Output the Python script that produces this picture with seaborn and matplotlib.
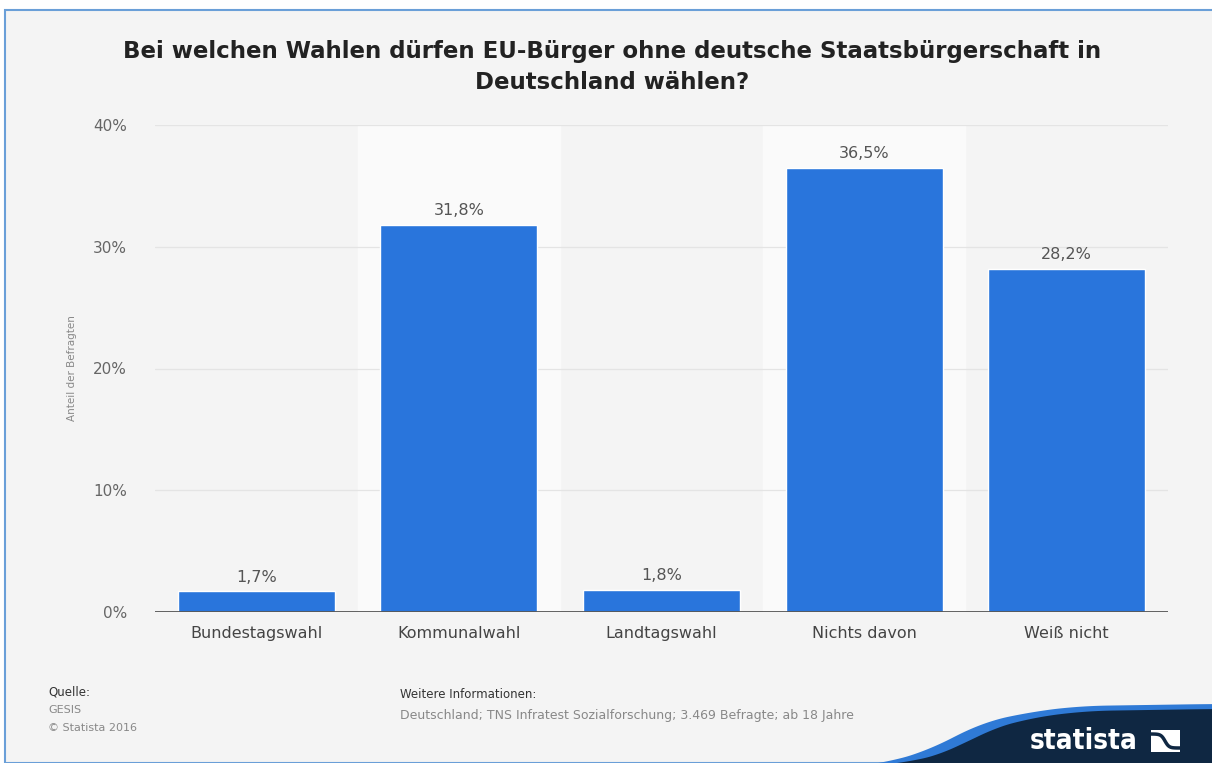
import numpy as np
import matplotlib
matplotlib.use("Agg")
import matplotlib.pyplot as plt
from matplotlib.patches import Polygon, Rectangle
import seaborn as sns

categories = ["Bundestagswahl", "Kommunalwahl", "Landtagswahl", "Nichts davon", "Weiß nicht"]
values = [1.7, 31.8, 1.8, 36.5, 28.2]
yticks = [0, 10, 20, 30, 40]
title = "Bei welchen Wahlen dürfen EU-Bürger ohne deutsche Staatsbürgerschaft in\nDeutschland wählen?"
ylabel = "Anteil der Befragten"

sns.set_theme(style="white")
plt.rcParams["font.family"] = ["DejaVu Sans"]

W, H = 1212, 763
fig = plt.figure(figsize=(W / 100, H / 100), dpi=100)
fig.patch.set_facecolor("white")

# framed panel with blue border
panel = Rectangle((5 / W, 0), 1.2, 1 - 10 / H, transform=fig.transFigure,
                  facecolor="#f4f4f4", edgecolor="#6a9fd8", linewidth=1.5, zorder=-5)
fig.patches.append(panel)

ax = fig.add_axes([155 / W, 1 - 612 / H, (1168 - 155) / W, (612 - 125) / H])
ax.set_zorder(1)
ax.set_facecolor("#f4f4f4")

# lighter background behind every second category
for i in range(len(categories)):
    if i % 2 == 1:
        ax.axvspan(i - 0.5, i + 0.5, color="#fafafa", zorder=0)

for t in yticks[1:]:
    ax.axhline(t, color="#e4e4e4", linewidth=0.9, zorder=1)

sns.barplot(x=categories, y=values, color="#2975dc", saturation=1, width=0.775,
            ax=ax, zorder=3)

for i, v in enumerate(values):
    ax.text(i, v + 0.55, f"{v:.1f}%".replace(".", ","), ha="center", va="bottom",
            fontsize=11.5, color="#555555", zorder=4)

ax.axhline(0, color="#555555", linewidth=1.3, zorder=5)
ax.set_xlim(-0.5, len(categories) - 0.5)
ax.set_ylim(0, 40)
ax.set_yticks(yticks)
ax.set_yticklabels([f"{t}%" for t in yticks], fontsize=11, color="#666666")
ax.tick_params(axis="y", length=0, pad=20)
ax.tick_params(axis="x", length=0, pad=10, labelsize=11.5, labelcolor="#444444")
for s in ax.spines.values():
    s.set_visible(False)
ax.set_xlabel("")
ax.set_ylabel("")

fig.text(72 / W, 1 - 368 / H, ylabel, rotation=90, ha="center", va="center",
         fontsize=7.5, color="#888888")

fig.text(612 / W, 1 - 67 / H, title, ha="center", va="center", fontsize=16.5,
         fontweight="bold", color="#222222", linespacing=1.45)

# footer
fig.text(48 / W, 1 - 692 / H, "Quelle:", fontsize=8.5, color="#333333", va="center")
fig.text(48 / W, 1 - 710 / H, "GESIS", fontsize=8, color="#888888", va="center")
fig.text(48 / W, 1 - 728 / H, "© Statista 2016", fontsize=8, color="#888888", va="center")
fig.text(400 / W, 1 - 695 / H, "Weitere Informationen:", fontsize=8.5, color="#333333", va="center")
fig.text(400 / W, 1 - 716 / H,
         "Deutschland; TNS Infratest Sozialforschung; 3.469 Befragte; ab 18 Jahre",
         fontsize=9, color="#888888", va="center")

# logo band: blue swoosh above a navy block
xs = np.linspace(840, 1212, 400)
blue_top = np.interp(xs, [840, 885, 930, 980, 1030, 1080, 1212],
                     [768, 763, 750, 723, 712, 706, 704])
navy_top = np.interp(xs, [840, 905, 950, 985, 1030, 1085, 1212],
                     [768, 763, 752, 731, 718, 711, 709])
k = np.ones(61) / 61
blue_top = np.convolve(np.pad(blue_top, 30, mode="edge"), k, mode="valid")
navy_top = np.convolve(np.pad(navy_top, 30, mode="edge"), k, mode="valid")

blue = np.column_stack([xs / W, 1 - blue_top / H])
blue = np.vstack([blue, [[1212 / W, -0.01], [840 / W, -0.01]]])
fig.patches.append(Polygon(blue, closed=True, transform=fig.transFigure,
                           facecolor="#2f7ad6", edgecolor="none", zorder=2))
navy = np.column_stack([xs / W, 1 - navy_top / H])
navy = np.vstack([navy, [[1212 / W, -0.01], [840 / W, -0.01]]])
fig.patches.append(Polygon(navy, closed=True, transform=fig.transFigure,
                           facecolor="#0f2742", edgecolor="none", zorder=3))
fig.text(1084 / W, 1 - 741 / H, "statista", fontsize=20, fontweight="bold",
         fontstretch="condensed", color="white", ha="center", va="center", zorder=5)
icon = Rectangle((1151 / W, 1 - 752 / H), 29 / W, 22 / H, transform=fig.transFigure,
                 facecolor="white", edgecolor="none", zorder=5)
fig.patches.append(icon)
ix = np.linspace(1151, 1180, 30)
iy = 741 + 7 * np.tanh((ix - 1165) / 4)
fig.add_artist(plt.Line2D(ix / W, 1 - iy / H, transform=fig.transFigure,
                          color="#0f2742", linewidth=2.5, zorder=6))

fig.savefig("out.png", dpi=100, facecolor="white")
